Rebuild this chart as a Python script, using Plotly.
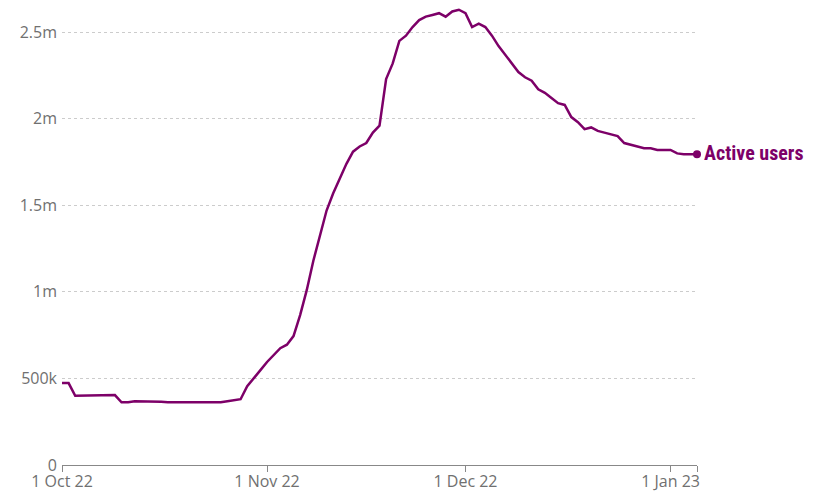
import pandas as pd
import plotly.graph_objects as go

start_date = "2022-10-01"
end_date = "2023-01-05"

# Daily active users (thousands), 1 Oct 2022 - 5 Jan 2023
oct_vals = [473, 473, 400, 400, 404, 404, 404, 404, 404, 362, 362, 368, 368, 368, 368, 365,
            362, 362, 362, 362, 362, 362, 365, 362, 362, 368, 375, 380, 455, 505, 548]
nov_vals = [595, 635, 675, 695, 745, 866, 1010, 1180, 1330, 1470, 1570, 1660, 1740, 1810, 1840,
            1860, 1920, 1960, 2230, 2320, 2450, 2480, 2530, 2570, 2590, 2600, 2610, 2590, 2620, 2630]
dec_vals = [2610, 2530, 2550, 2530, 2480, 2420, 2370, 2320, 2270, 2240, 2220, 2170, 2150, 2120,
            2090, 2080, 2010, 1980, 1940, 1950, 1930, 1920, 1910, 1900, 1860, 1850, 1840, 1830,
            1830, 1820, 1820]
jan_vals = [1820, 1800, 1795, 1795, 1795]

series_name = "Active users"
tick_dates = ["2022-10-01", "2022-11-01", "2022-12-01", "2023-01-01", "2023-01-05"]
tick_labels = ["1 Oct 22", "1 Nov 22", "1 Dec 22", "1 Jan 23", ""]
y_ticks = [0, 500000, 1000000, 1500000, 2000000, 2500000]
y_labels = ["0", "500k", "1m", "1.5m", "2m", "2.5m"]

dates = pd.date_range(start_date, end_date, freq="D")
values = [v * 1000 for v in oct_vals + nov_vals + dec_vals + jan_vals]

color = "#7d0068"

fig = go.Figure()
fig.add_trace(go.Scatter(x=dates, y=values, mode="lines", cliponaxis=False,
                         line=dict(color=color, width=2.5), hoverinfo="skip"))
fig.add_trace(go.Scatter(x=[dates[-1]], y=[values[-1]], mode="markers", cliponaxis=False,
                         marker=dict(color=color, size=8), hoverinfo="skip"))
fig.add_annotation(x=dates[-1], y=values[-1], text="<b>" + series_name + "</b>",
                   showarrow=False, xanchor="left", xshift=5, yshift=1,
                   font=dict(family="Liberation Sans Narrow, Roboto Condensed, Arial Narrow, sans-serif",
                             size=20, color=color))

tick_font = dict(family="Open Sans, sans-serif", size=16, color="#707070")

# page has an 8px body margin; figure sized to fit the window
fig.update_layout(
    width=819, height=487,
    margin=dict(l=54, r=130, t=0, b=30, autoexpand=False),
    paper_bgcolor="white", plot_bgcolor="white",
    showlegend=False,
    xaxis=dict(
        type="date",
        range=[start_date, end_date],
        tickvals=tick_dates, ticktext=tick_labels,
        ticks="outside", ticklen=6, tickcolor="#888888", tickwidth=1,
        showline=True, linecolor="#888888", linewidth=1,
        showgrid=False, zeroline=False,
        tickfont=tick_font,
        ticklabelstandoff=-4,
        automargin=False,
        fixedrange=True,
    ),
    yaxis=dict(
        range=[0, 2640000],
        tickvals=y_ticks, ticktext=y_labels,
        showgrid=True, gridcolor="#cccccc", griddash="dot", gridwidth=1,
        zeroline=False, showline=False, ticks="",
        tickfont=tick_font,
        ticklabelstandoff=4,
        automargin=False,
        fixedrange=True,
    ),
)

fig.write_html("out.html")
